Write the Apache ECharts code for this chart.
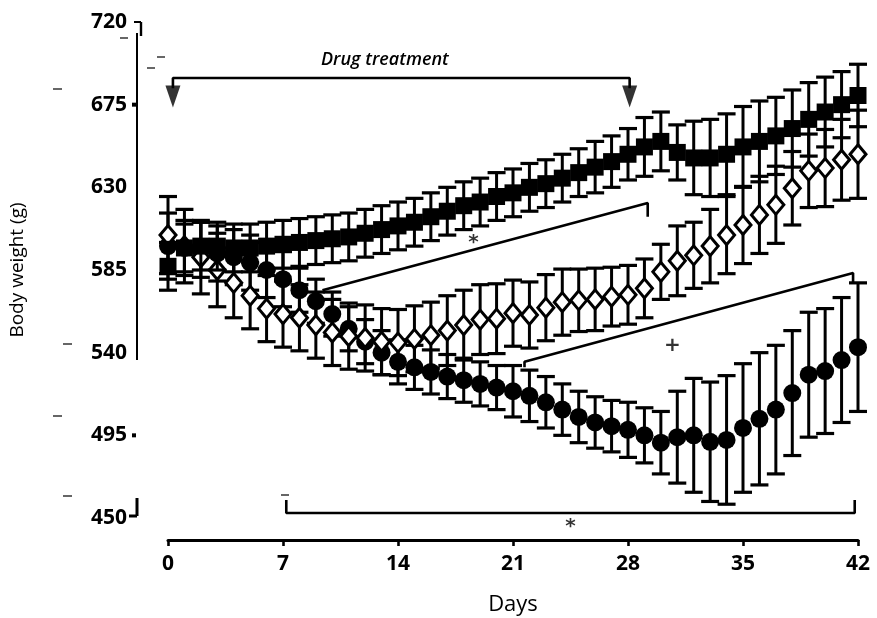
<!DOCTYPE html>
<html>
<head>
<meta charset="utf-8">
<script src="https://cdn.jsdelivr.net/npm/echarts@6/dist/echarts.min.js"></script>
<style>
  html, body { margin: 0; padding: 0; background: #fff; }
  #chart { width: 877px; height: 618px; }
</style>
</head>
<body>
<div id="chart"></div>
<script>
// Study days (one measurement per day)
const days = [0, 1, 2, 3, 4, 5, 6, 7, 8, 9, 10, 11, 12, 13, 14, 15, 16, 17, 18, 19, 20,
  21, 22, 23, 24, 25, 26, 27, 28, 29, 30, 31, 32, 33, 34, 35, 36, 37, 38, 39, 40, 41, 42];

// Filled squares: mean body weight (g) and error
const squareMean = [587, 597, 598, 598, 597, 597, 598, 599, 600, 601, 602, 603, 605, 607, 609,
  611, 614, 617, 620, 622, 625, 627, 630, 632, 635, 638, 641, 644, 648, 652, 655, 649, 646,
  646, 648, 652, 655, 658, 662, 667, 671, 675, 680];
const squareErr = [13, 13, 13, 13, 13, 13, 13, 13, 13, 13, 13, 13, 13, 13, 13, 13, 13, 13, 13,
  13, 13, 13, 13, 13, 13, 13, 14, 14, 14, 16, 16, 15, 20, 21, 22, 22, 22, 21, 21, 20, 19, 18, 17];

// Open diamonds
const diamondMean = [604, 598, 592, 585, 578, 571, 564, 561, 559, 555, 551, 549, 548, 546, 545.5,
  547.5, 549.5, 552, 555, 558, 558.5, 561.5, 560.5, 564.5, 567.5, 568.5, 569, 570.5, 571.5, 575,
  584, 590, 593, 598, 604, 609.5, 615, 620.5, 629.5, 639, 640.5, 645, 648];
const diamondErr = [21, 20, 20, 20, 19, 18, 18, 18, 18, 18, 18, 18, 18, 18, 18, 18, 18, 19, 19,
  19, 19, 18, 18, 18, 18, 17, 17, 16, 16, 16, 15, 19, 18, 20, 21, 21, 21, 21, 20, 20, 21, 22, 24];

// Filled circles
const circleMean = [598, 597, 596, 594, 592, 589, 585, 580, 574, 568, 561, 553, 546, 540, 535,
  532, 529.5, 527, 525, 523, 521, 519, 516.5, 513, 509, 505, 502, 500, 498, 495, 491, 494, 495,
  491.5, 492.5, 499, 504, 509, 518, 528, 530, 536, 543];
const circleErr = [18, 15, 15, 15, 15, 15, 15, 15, 12, 12, 12, 12, 12, 12, 12, 12, 12, 12, 12,
  12, 12, 14, 14, 14, 14, 14, 14, 14, 15, 15, 17, 25, 31, 32.5, 35, 35, 36, 35, 34, 34, 34, 34, 35];

// Axis ticks
const xTicks = [0, 7, 14, 21, 28, 35, 42];
const yTicks = [450, 495, 540, 585, 630, 675, 720];

// Annotation geometry in data units (day, grams)
const treatmentBar = [[0.3, 684], [0.3, 689.5], [28.1, 689.5], [28.1, 684]];
const treatmentArrows = [[0.3, 679.5], [28.1, 679.5]];
const starLine = [[9.4, 574], [29.2, 621.5], [29.2, 614]];
const plusLine = [[21.7, 532], [21.7, 535], [41.7, 583.4], [41.7, 578.5]];
const bracketLine = [[7.2, 459.8], [7.2, 452.7], [41.8, 452.7], [41.8, 459.8]];
const marks = [
  { at: [18.6, 600], text: '*' },
  { at: [30.7, 544], text: '+' },
  { at: [24.5, 445], text: '*' }
];

const INK = '#000';
const FONT = '"Open Sans", "DejaVu Sans", sans-serif';

function errorBars(mean, err, z) {
  return {
    type: 'custom',
    z: z,
    silent: true,
    clip: false,
    data: days.map((d, i) => [d, mean[i] - err[i], mean[i] + err[i]]),
    encode: { x: 0, y: [1, 2] },
    renderItem: function (params, api) {
      const lo = api.coord([api.value(0), api.value(1)]);
      const hi = api.coord([api.value(0), api.value(2)]);
      const w = 9;
      const cap = { stroke: INK, lineWidth: 3.2 };
      return {
        type: 'group',
        children: [
          { type: 'line', shape: { x1: hi[0], y1: hi[1], x2: lo[0], y2: lo[1] }, style: { stroke: INK, lineWidth: 3 } },
          { type: 'line', shape: { x1: hi[0] - w, y1: hi[1], x2: hi[0] + w, y2: hi[1] }, style: cap },
          { type: 'line', shape: { x1: lo[0] - w, y1: lo[1], x2: lo[0] + w, y2: lo[1] }, style: cap }
        ]
      };
    }
  };
}

function markers(mean, symbol, size, fill, z) {
  return {
    type: 'scatter',
    z: z,
    silent: true,
    clip: false,
    symbol: symbol,
    symbolSize: size,
    itemStyle: { color: fill, borderColor: INK, borderWidth: fill === '#fff' ? 3 : 0, opacity: 1 },
    data: days.map((d, i) => [d, mean[i]])
  };
}

function annotationLine(points) {
  return {
    type: 'line',
    z: 10,
    silent: true,
    clip: false,
    symbol: 'none',
    lineStyle: { color: INK, width: 2.6 },
    data: points
  };
}

const chart = echarts.init(document.getElementById('chart'), null, { renderer: 'canvas' });

const GRID = { left: 168, right: 19, top: 22, bottom: 100, containLabel: false, outerBoundsMode: 'none' };
const Y_OFFSET = 31;

chart.setOption({
  backgroundColor: '#fff',
  animation: false,
  grid: GRID,
  xAxis: {
    type: 'value',
    min: xTicks[0],
    max: xTicks[xTicks.length - 1],
    interval: 7,
    offset: 22,
    axisLine: { show: true, lineStyle: { color: INK, width: 3 } },
    axisTick: { show: true, length: 6, lineStyle: { color: INK, width: 2.6 } },
    axisLabel: { color: INK, fontFamily: FONT, fontWeight: 'bold', fontSize: 21, margin: 14 },
    splitLine: { show: false },
    name: 'Days',
    nameLocation: 'middle',
    nameGap: 54,
    nameTextStyle: { color: INK, fontFamily: FONT, fontSize: 22 }
  },
  yAxis: {
    type: 'value',
    min: yTicks[0],
    max: yTicks[yTicks.length - 1],
    interval: 45,
    offset: Y_OFFSET,
    axisLine: { show: false },
    axisTick: { show: false },
    axisLabel: { color: INK, fontFamily: FONT, fontWeight: 'bold', fontSize: 21, margin: 10 },
    splitLine: { show: false },
    name: 'Body weight (g)',
    nameLocation: 'middle',
    nameGap: 110,
    nameTextStyle: { color: INK, fontFamily: FONT, fontSize: 19 }
  },
  series: [
    errorBars(circleMean, circleErr, 2),
    markers(circleMean, 'circle', 18, INK, 3),
    errorBars(diamondMean, diamondErr, 4),
    markers(diamondMean, 'diamond', [16, 19], '#fff', 5),
    errorBars(squareMean, squareErr, 6),
    markers(squareMean, 'rect', 17, INK, 7),
    annotationLine(treatmentBar),
    {
      type: 'scatter',
      z: 10,
      silent: true,
      clip: false,
      symbol: 'triangle',
      symbolRotate: 180,
      symbolSize: [15, 22],
      itemStyle: { color: INK },
      data: treatmentArrows
    },
    annotationLine(starLine),
    annotationLine(plusLine),
    annotationLine(bracketLine),
    {
      type: 'scatter',
      z: 10,
      silent: true,
      clip: false,
      symbolSize: 0,
      data: marks.map(m => ({ value: m.at, name: m.text })),
      label: {
        show: true,
        position: 'inside',
        formatter: p => p.name,
        color: INK,
        fontFamily: '"DejaVu Sans", sans-serif',
        fontWeight: 'bold',
        fontSize: 20
      }
    }
  ]
});

// Broken left axis line, end hooks, tick dots and the treatment caption
const ax = GRID.left - Y_OFFSET;
const py = v => chart.convertToPixel({ yAxisIndex: 0 }, v);
const px = d => chart.convertToPixel({ xAxisIndex: 0 }, d);
const seg = (x1, y1, x2, y2, w) => ({
  type: 'line', silent: true, z: 20,
  shape: { x1, y1, x2, y2 }, style: { stroke: INK, lineWidth: w || 2 }
});
const yTop = py(720), yLow = py(536), yBase = py(450);
chart.setOption({
  graphic: [
    seg(ax, yTop + 11, ax, yLow, 2),
    seg(ax - 3, yTop, ax + 4, yTop, 2),
    seg(ax + 4, yTop, ax + 4, yTop + 14, 2.4),
    seg(ax, yBase - 20, ax, yBase - 2, 3),
    seg(ax - 8, yBase - 2, ax, yBase - 2, 3),
    { type: 'rect', silent: true, z: 20, shape: { x: ax - 5, y: py(675) - 2, width: 4, height: 4 }, style: { fill: INK } },
    { type: 'rect', silent: true, z: 20, shape: { x: ax - 5, y: py(495) - 2, width: 4, height: 4 }, style: { fill: INK } },
    // small specks near the axis labels
    seg(120, 38, 128, 38, 1.2), seg(157, 57, 165, 57, 1.2), seg(147, 68, 155, 68, 1.2),
    seg(53, 89, 62, 89, 1.2), seg(63, 344, 72, 344, 1.2), seg(53, 416, 62, 416, 1.2),
    seg(63, 496, 72, 496, 1.2), seg(281, 495, 289, 495, 1.2),
    {
      type: 'text', silent: true, z: 20,
      x: px(13.2), y: py(699.5),
      style: {
        text: 'Drug treatment', fill: INK, font: 'italic 600 18px "Open Sans", sans-serif',
        align: 'center', verticalAlign: 'middle'
      }
    }
  ]
});
</script>
</body>
</html>
